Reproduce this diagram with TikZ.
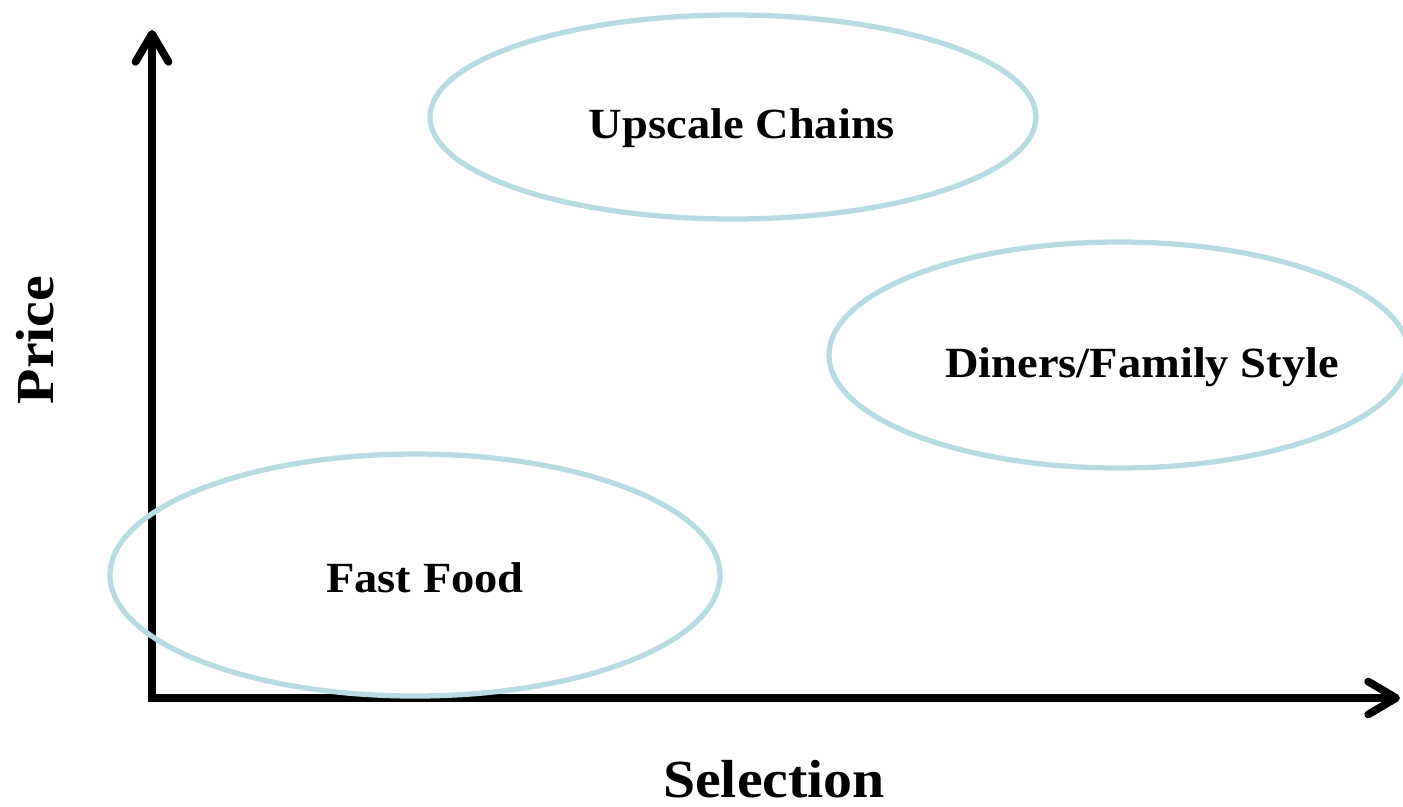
\documentclass[tikz,border=0pt]{standalone}
\usepackage{fontspec}
\setmainfont{Liberation Serif}[FakeStretch=1.08]
\usepackage{tikz}
\usetikzlibrary{arrows.meta}
\definecolor{ringblue}{RGB}{183,221,226}

\tikzset{
  axisline/.style={line width=4.4pt, line join=miter,
    {Straight Barb[length=0.56cm, width=0.66cm, round]}-{Straight Barb[length=0.56cm, width=0.66cm, round]}},
  ring/.style={draw=ringblue, line width=3pt},
  segtext/.style={anchor=base, inner sep=0pt, font=\bfseries\fontsize{24.5}{29}\selectfont},
  axistext/.style={anchor=base, inner sep=0pt, font=\bfseries\fontsize{30.5}{36}\selectfont}
}

\begin{document}
\begin{tikzpicture}[x=0.02cm,y=-0.02cm]
  \useasboundingbox (0,0) rectangle (1403,806);

  \coordinate (top) at (152,30);
  \coordinate (origin) at (152,698);
  \coordinate (right) at (1400,698);
  \draw[axisline] (top) -- (origin) -- (right);

  \draw[ring] (733,117) ellipse [x radius=303, y radius=102];
  \draw[ring] (1119,355) ellipse [x radius=290, y radius=113];
  \draw[ring] (415,575) ellipse [x radius=305, y radius=121];

  \node[segtext] (upscale) at (742,138) {Upscale Chains};
  \node[segtext] (diners) at (1142,377) {Diners/Family Style};
  \node[segtext] (fastfood) at (425,592) {Fast Food};

  \node[axistext] (selection) at (774,797) {Selection};
  \node[axistext, rotate=90] (price) at (53,340) {Price};
\end{tikzpicture}
\end{document}
